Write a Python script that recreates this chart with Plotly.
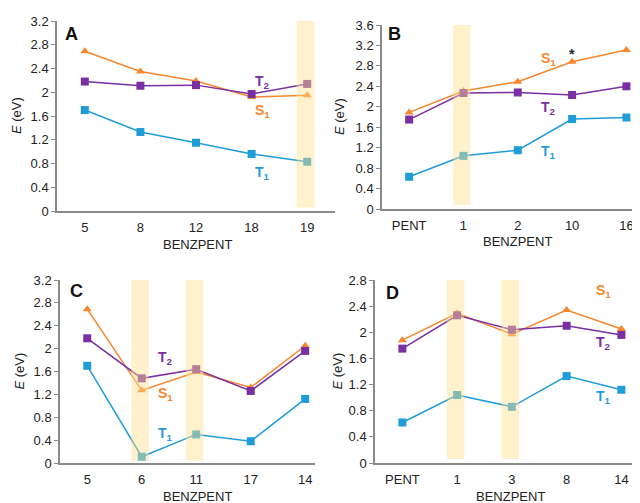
import plotly.graph_objects as go

# ---------------- data ----------------
labels_A = ["5", "8", "12", "18", "19"]
S1_A = [2.69, 2.35, 2.19, 1.92, 1.95]
T2_A = [2.18, 2.11, 2.12, 1.97, 2.14]
T1_A = [1.70, 1.33, 1.15, 0.96, 0.83]
band_A = [4]

labels_B = ["PENT", "1", "2", "10", "16"]
S1_B = [1.89, 2.31, 2.49, 2.88, 3.11]
T2_B = [1.75, 2.27, 2.28, 2.23, 2.40]
T1_B = [0.63, 1.04, 1.15, 1.76, 1.79]
band_B = [1]

labels_C = ["5", "6", "11", "17", "14"]
S1_C = [2.69, 1.27, 1.59, 1.32, 2.05]
T2_C = [2.18, 1.48, 1.64, 1.26, 1.96]
T1_C = [1.70, 0.11, 0.50, 0.38, 1.12]
band_C = [1, 2]

labels_D = ["PENT", "1", "3", "8", "14"]
S1_D = [1.88, 2.29, 1.97, 2.34, 2.05]
T2_D = [1.75, 2.26, 2.04, 2.10, 1.96]
T1_D = [0.62, 1.04, 0.86, 1.33, 1.12]
band_D = [1, 2]

W, H = 640, 503
OFF = 8  # page body margin
C_S1 = "#F8862D"
C_T2 = "#7A2FA2"
C_T1 = "#1F9DD9"
FONT = "Liberation Sans, Arial, sans-serif"


def fx(px):
    return (px - OFF) / W


def fy(py):
    return 1 - (py - OFF) / H


fig = go.Figure()

panels = [
    dict(labels=labels_A, S1=S1_A, T2=T2_A, T1=T1_A, bands=band_A,
         xpx=(57, 335), ypx=(211, 21), xr=[-0.5, 4.5], ymax=3.2, by=(0.06, 3.2),
         letter="A", lpos=(71, 34), ytitle_x=17, xtitle_x=197,
         lab={"T2": (3.2, 2.17), "S1": (3.2, 1.68), "T1": (3.2, 0.64)}, star=None),
    dict(labels=labels_B, S1=S1_B, T2=T2_B, T1=T1_B, bands=band_B,
         xpx=(382, 640), ypx=(209, 25), xr=[-0.5, 4.25], ymax=3.6, by=(0.08, 3.72),
         letter="B", lpos=(394, 34), ytitle_x=339, xtitle_x=517,
         lab={"S1": (2.56, 2.93), "T2": (2.56, 1.97), "T1": (2.56, 1.12)}, star=(3.0, 3.03)),
    dict(labels=labels_C, S1=S1_C, T2=T2_C, T1=T1_C, bands=band_C,
         xpx=(60, 315), ypx=(463, 280), xr=[-0.5, 4.18], ymax=3.2, by=(0.04, 3.30),
         letter="C", lpos=(76, 291), ytitle_x=19, xtitle_x=197,
         lab={"T2": (1.43, 1.84), "S1": (1.43, 1.21), "T1": (1.43, 0.51)}, star=None),
    dict(labels=labels_D, S1=S1_D, T2=T2_D, T1=T1_D, bands=band_D,
         xpx=(375, 640), ypx=(463, 280), xr=[-0.5, 4.34], ymax=2.8, by=(0.06, 2.93),
         letter="D", lpos=(392, 293), ytitle_x=337, xtitle_x=510,
         lab={"S1": (3.67, 2.63), "T2": (3.67, 1.83), "T1": (3.67, 1.01)}, star=None),
]

annotations = []
shapes = []
sub = {"S1": "S<sub>1</sub>", "T2": "T<sub>2</sub>", "T1": "T<sub>1</sub>"}
cols = {"S1": C_S1, "T2": C_T2, "T1": C_T1}

for i, p in enumerate(panels):
    n = "" if i == 0 else str(i + 1)
    xa, ya = "x" + n, "y" + n
    xs = list(range(len(p["labels"])))
    for key, sym in (("S1", "triangle-up"), ("T2", "square"), ("T1", "square")):
        fig.add_trace(go.Scatter(
            x=xs, y=p[key], mode="lines+markers", xaxis=xa, yaxis=ya,
            line=dict(color=cols[key], width=1.5),
            marker=dict(symbol=sym, size=8, color=cols[key]),
            showlegend=False, hoverinfo="skip", cliponaxis=False))
    x0px, x1px = p["xpx"]
    yb, yt = p["ypx"]
    tickvals = [round(0.4 * k, 1) for k in range(int(round(p["ymax"] / 0.4)) + 1)]
    fig.layout["xaxis" + n] = dict(
        domain=[fx(x0px), fx(x1px)], range=p["xr"], anchor=ya, automargin=False,
        tickvals=xs, ticktext=p["labels"], ticks="outside", ticklen=4, tickcolor="rgba(0,0,0,0)",
        showgrid=False, zeroline=False,
        showline=True, linecolor="#8a8a8a", linewidth=1.5,
        tickfont=dict(family=FONT, size=13, color="#222"),
        fixedrange=True)
    fig.layout["yaxis" + n] = dict(
        domain=[fy(yb), fy(yt)], range=[0, p["ymax"]], anchor=xa, automargin=False,
        tickvals=tickvals, ticktext=[("%g" % v) for v in tickvals],
        ticks="outside", ticklen=4, tickcolor="#8a8a8a", tickwidth=1.2,
        showgrid=False, zeroline=False, showline=True, linecolor="#8a8a8a", linewidth=1.5,
        tickfont=dict(family=FONT, size=13, color="#222"), fixedrange=True)
    for b in p["bands"]:
        shapes.append(dict(type="rect", xref=xa, yref=ya, x0=b - 0.19, x1=b + 0.13,
                           y0=p["by"][0], y1=p["by"][1], fillcolor="rgb(255,224,140)",
                           opacity=0.45, line=dict(width=0), layer="above"))
    for key, (lx, ly) in p["lab"].items():
        annotations.append(dict(xref=xa, yref=ya, x=lx, y=ly, text="<b>%s</b>" % sub[key],
                                xanchor="center", yanchor="middle",
                                showarrow=False, font=dict(family=FONT, size=14, color=cols[key])))
    if p["star"]:
        annotations.append(dict(xref=xa, yref=ya, x=p["star"][0], y=p["star"][1], text="<b>*</b>",
                                xanchor="center", yanchor="middle",
                                showarrow=False, font=dict(family=FONT, size=14, color="#222")))
    annotations.append(dict(xref="paper", yref="paper", x=fx(p["lpos"][0]), y=fy(p["lpos"][1]),
                            text="<b>%s</b>" % p["letter"], showarrow=False,
                            xanchor="center", yanchor="middle",
                            font=dict(family=FONT, size=18, color="#111")))
    annotations.append(dict(xref="paper", yref="paper", x=fx(p["ytitle_x"]),
                            y=fy((yb + yt) / 2), text="<i>E</i> (eV)", textangle=-90,
                            xanchor="center", yanchor="middle",
                            showarrow=False, font=dict(family=FONT, size=13, color="#222")))
    annotations.append(dict(xref="paper", yref="paper", x=fx(p["xtitle_x"]),
                            y=fy(yb + 33), text="BENZPENT", showarrow=False,
                            xanchor="center", yanchor="middle",
                            font=dict(family=FONT, size=13, color="#222")))

fig.update_layout(width=W, height=H, margin=dict(l=0, r=0, t=0, b=0),
                  paper_bgcolor="white", plot_bgcolor="white",
                  annotations=annotations, shapes=shapes, showlegend=False)
fig.write_html("out.html")
